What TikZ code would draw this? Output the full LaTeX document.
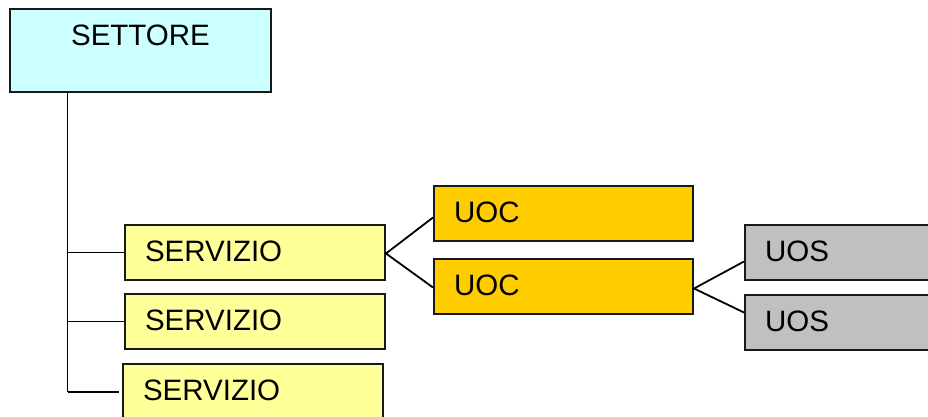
\documentclass[tikz,border=0pt]{standalone}
\usepackage{fontspec}
\setmainfont{Liberation Sans}
\definecolor{settorefill}{HTML}{CCFFFF}
\definecolor{servfill}{HTML}{FFFF99}
\definecolor{uocfill}{HTML}{FFCC00}
\definecolor{uosfill}{HTML}{C0C0C0}
\begin{document}
\begin{tikzpicture}[x=1pt,y=-1pt,
  box/.style={draw=black!90, line width=2pt, anchor=north west, rectangle,
    inner xsep=20pt, inner ysep=0pt, minimum height=55pt, align=left,
    text height=22pt, text depth=4pt,
    font=\fontsize{29.5}{30}\selectfont},
  servbox/.style={box, fill=servfill, text width=220pt},
  uocbox/.style={box, fill=uocfill, text width=219pt},
  uosbox/.style={box, fill=uosfill, text width=250pt},
  link/.style={draw=black, line width=1.8pt}]
\useasboundingbox (0,0) rectangle (928,417);
\clip (0,0) rectangle (928,417);

% top-level box
\node[draw=black!90, line width=2pt, fill=settorefill, anchor=north west,
  minimum width=261pt, inner xsep=0pt, inner ysep=15pt,
  text height=22pt, text depth=31pt, font=\fontsize{29.5}{30}\selectfont]
  (settore) at (9,8) {SETTORE};

% services
\node[servbox] (s1) at (124,224) {SERVIZIO};
\node[servbox] (s2) at (124,293) {SERVIZIO};
\node[servbox] (s3) at (122,363) {SERVIZIO};

% UOC
\node[uocbox] (c1) at (433,185) {UOC};
\node[uocbox] (c2) at (433,258) {UOC};

% UOS
\node[uosbox] (o1) at (744,224) {UOS};
\node[uosbox] (o2) at (744,294) {UOS};

% trunk from the top box
\coordinate (trunk) at ([xshift=-73pt]settore.south);
\coordinate (tend) at (trunk |- 0,392);
\draw[link] (trunk) -- (tend);
\draw[link] (trunk |- s1.west) -- (s1.west);
\draw[link] (trunk |- s2.west) -- (s2.west);
\draw[link] (tend) -- ([xshift=-3pt]s3.west |- tend);

% fan-out connectors
\draw[link] ([yshift=-4pt]c1.west) -- ([yshift=-1pt]s1.east) -- ([yshift=-1pt]c2.west);
\draw[link] ([yshift=-9pt]o1.west) -- ([yshift=-2pt]c2.east) -- ([yshift=10pt]o2.west);
\end{tikzpicture}
\end{document}
